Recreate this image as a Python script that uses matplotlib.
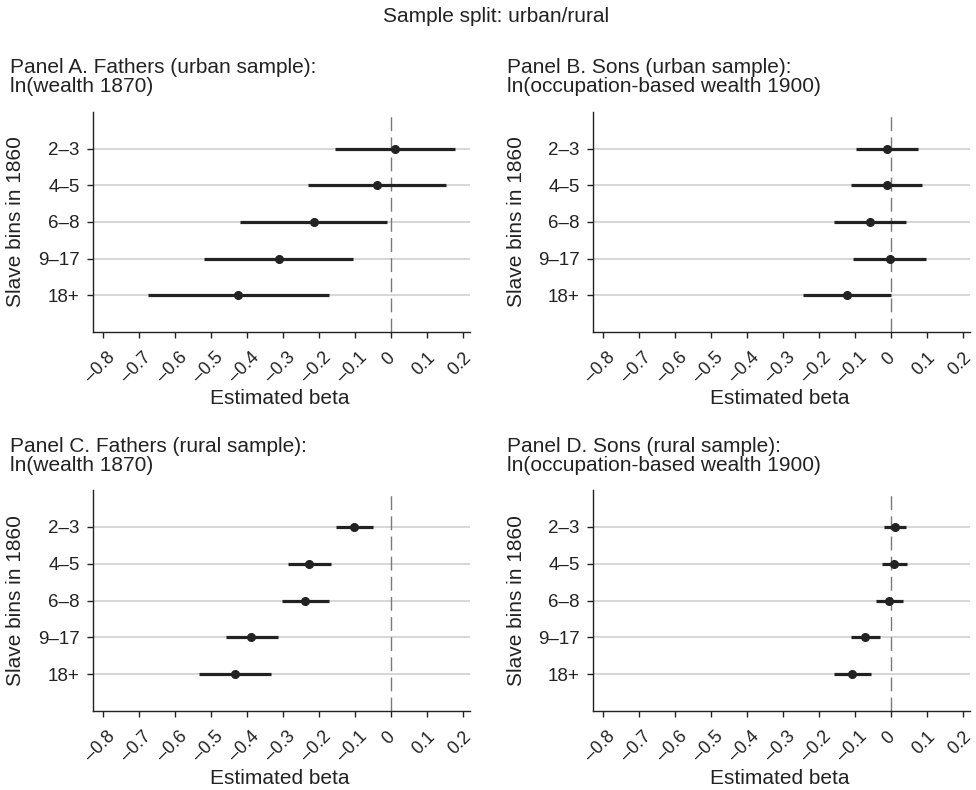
import matplotlib
matplotlib.use("Agg")
import matplotlib.pyplot as plt
import matplotlib.transforms as mtransforms

plt.rcParams['font.family'] = ['Liberation Sans', 'DejaVu Sans']

bins = ["2–3", "4–5", "6–8", "9–17", "18+"]
xtick_vals = [-0.8, -0.7, -0.6, -0.5, -0.4, -0.3, -0.2, -0.1, 0, 0.1, 0.2]
xtick_labels = ["–0.8", "–0.7", "–0.6", "–0.5", "–0.4", "–0.3", "–0.2", "–0.1", "0", "0.1", "0.2"]

A_est = [0.010, -0.041, -0.216, -0.313, -0.425]
A_lo = [-0.156, -0.231, -0.419, -0.520, -0.677]
A_hi = [0.177, 0.152, -0.011, -0.106, -0.174]

B_est = [-0.011, -0.013, -0.059, -0.005, -0.124]
B_lo = [-0.097, -0.111, -0.159, -0.106, -0.245]
B_hi = [0.073, 0.086, 0.041, 0.096, 0.000]

C_est = [-0.103, -0.229, -0.240, -0.389, -0.435]
C_lo = [-0.153, -0.288, -0.305, -0.460, -0.533]
C_hi = [-0.051, -0.168, -0.174, -0.316, -0.335]

D_est = [0.011, 0.007, -0.006, -0.073, -0.108]
D_lo = [-0.019, -0.026, -0.043, -0.113, -0.159]
D_hi = [0.040, 0.044, 0.032, -0.031, -0.056]

title_line1 = ["Panel A. Fathers (urban sample):", "Panel B. Sons (urban sample):",
               "Panel C. Fathers (rural sample):", "Panel D. Sons (rural sample):"]
title_line2 = ["ln(wealth 1870)", "ln(occupation-based wealth 1900)",
               "ln(wealth 1870)", "ln(occupation-based wealth 1900)"]

W, H = 976, 790
fig = plt.figure(figsize=(W / 100, H / 100), dpi=100)

def px_axes(l, t, r, b):
    return fig.add_axes([l / W, 1 - b / H, (r - l) / W, (b - t) / H])

def ftext(x, y, s, **kw):
    return fig.text(x / W, 1 - y / H, s, **kw)

# axes boxes in pixels (left, top, right, bottom)
boxes = [(93, 112, 470, 332), (593, 112, 970, 332),
         (93, 490, 470, 711), (593, 490, 970, 711)]
# title: x, baseline line1, baseline line2
title_pos = [(10, 73, 92), (507, 73, 92), (10, 452, 471), (507, 452, 471)]
data = [(A_est, A_lo, A_hi), (B_est, B_lo, B_hi), (C_est, C_lo, C_hi), (D_est, D_lo, D_hi)]

FS = 15
TFS = 13
dark = "#222222"
shift = mtransforms.ScaledTranslation(-3 / 100, 0, fig.dpi_scale_trans)

for i, (box, (est, lo, hi)) in enumerate(zip(boxes, data)):
    ax = px_axes(*box)
    ys = list(range(1, len(bins) + 1))
    ax.set_ylim(6, 0)
    ax.set_xlim(-0.8286, 0.2186)
    for y in ys:
        ax.axhline(y, color="#cccccc", lw=1.1, zorder=1)
    ax.axvline(0, color="#7a7a7a", lw=1.0, linestyle=(0, (10, 4.5)), zorder=2)
    ax.hlines(ys, lo, hi, color=dark, lw=2.3, zorder=3)
    ax.plot(est, ys, 'o', color=dark, ms=5.5, zorder=4)
    ax.tick_params(axis='both', length=4.5, width=1.0, color=dark, direction='out')
    ax.tick_params(axis='y', pad=5)
    ax.tick_params(axis='x', pad=8)
    ax.set_yticks(ys)
    ax.set_yticklabels(bins, fontsize=TFS + 0.5, color=dark)
    ax.set_xticks(xtick_vals)
    ax.set_xticklabels(xtick_labels, fontsize=TFS, rotation=45, ha='center', va='top', color=dark)
    for lbl in ax.get_xticklabels():
        lbl.set_transform(lbl.get_transform() + shift)
    for s in ['top', 'right']:
        ax.spines[s].set_visible(False)
    for s in ['left', 'bottom']:
        ax.spines[s].set_color(dark)
        ax.spines[s].set_linewidth(1.0)
    l, t, r, b = box
    ftext((l + r) / 2 - 2, b + 67, "Estimated beta", fontsize=FS, ha='center', va='center', color=dark)
    ftext(l - 77, (t + b) / 2, "Slave bins in 1860", fontsize=FS, ha='center', va='center',
          rotation=90, color=dark)
    tx, y1, y2 = title_pos[i]
    ftext(tx, y1, title_line1[i], fontsize=FS, ha='left', va='baseline', color=dark)
    ftext(tx, y2, title_line2[i], fontsize=FS, ha='left', va='baseline', color=dark)

ftext(496, 17, "Sample split: urban/rural", fontsize=FS, ha='center', va='center', color=dark)

fig.savefig("out.png", dpi=100, facecolor="white")
